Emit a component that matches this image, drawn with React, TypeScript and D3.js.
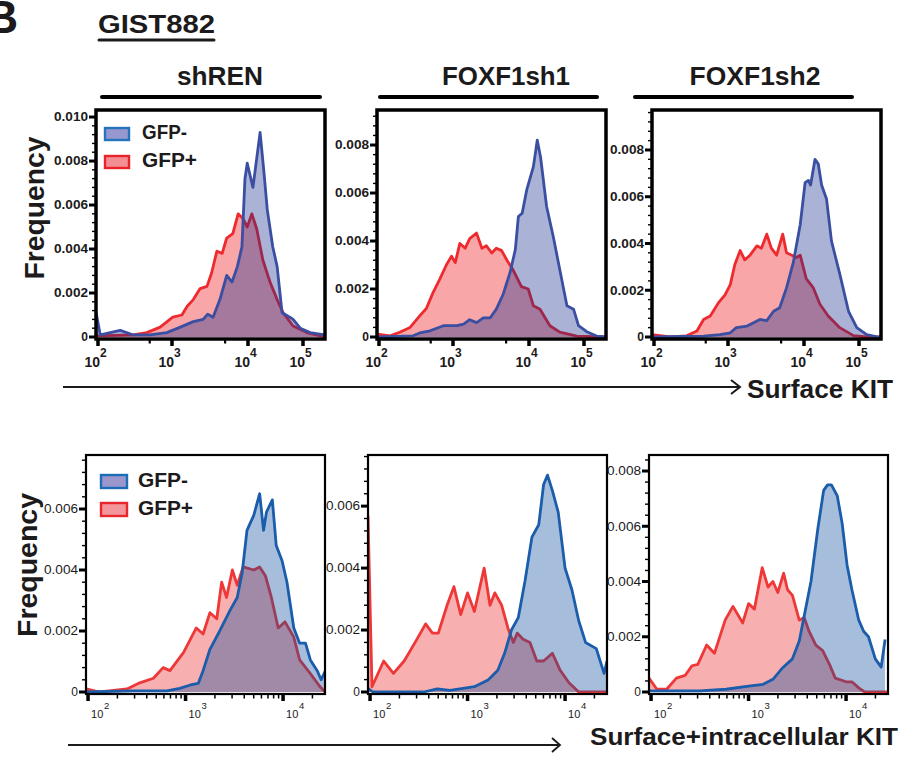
import React from 'react';
import * as d3 from 'd3';

// each point: [log10 KIT intensity, frequency]
const shrenSurfNeg: [number, number][] = [
  [1.975, 0.0011], [2.03, 0.0001], [2.3, 0.0003], [2.47, 0.0001], [2.7, 0.0001], [2.93, 0.0002],
  [3.11, 0.00045], [3.28, 0.0007], [3.41, 0.0008], [3.47, 0.00104], [3.54, 0.0009], [3.63, 0.0017],
  [3.72, 0.0028], [3.79, 0.0025], [3.86, 0.0032], [3.92, 0.0041], [3.96, 0.0072], [3.99, 0.0079],
  [4.09, 0.0068], [4.22, 0.0093], [4.29, 0.0075], [4.35, 0.0058], [4.45, 0.0041], [4.53, 0.0032],
  [4.62, 0.0011], [4.76, 0.0009], [4.82, 0.0008], [4.95, 0.0004], [5.13, 0.0002], [5.4, 0.0001],
];
const shrenSurfPos: [number, number][] = [
  [1.975, 0.00005], [2.47, 0.0001], [2.66, 0.0002], [2.84, 0.00045], [3.01, 0.0009], [3.13, 0.001],
  [3.2, 0.0014], [3.28, 0.0017], [3.37, 0.0022], [3.46, 0.0023], [3.52, 0.0029], [3.59, 0.0039],
  [3.66, 0.0038], [3.72, 0.0045], [3.8, 0.0047], [3.87, 0.0056], [3.93, 0.0054], [3.99, 0.005],
  [4.07, 0.0056], [4.16, 0.0049], [4.27, 0.0035], [4.4, 0.0025], [4.53, 0.0017], [4.64, 0.0011],
  [4.82, 0.0005], [5.07, 0.0002], [5.4, 0],
];
const sh1SurfNeg: [number, number][] = [
  [1.975, 0], [2.46, 0.00005], [2.55, 0.00017], [2.69, 0.00026], [2.87, 0.00047], [3.05, 0.00047],
  [3.14, 0.00054], [3.22, 0.00072], [3.31, 0.0006], [3.4, 0.0008], [3.49, 0.0008], [3.57, 0.00116],
  [3.66, 0.00178], [3.75, 0.00268], [3.82, 0.00364], [3.86, 0.00502], [3.91, 0.00516], [3.97, 0.00613],
  [4.08, 0.0071], [4.15, 0.0082], [4.21, 0.0075], [4.32, 0.00544], [4.44, 0.0042], [4.56, 0.0028],
  [4.69, 0.0013], [4.81, 0.00116], [4.9, 0.00047], [5.05, 0.00022], [5.23, 0.00004], [5.4, 0],
];
const sh1SurfPos: [number, number][] = [
  [1.975, 0.00012], [2.15, 0.00005], [2.28, 0.0002], [2.42, 0.0004], [2.55, 0.00088], [2.64, 0.00119],
  [2.73, 0.00185], [2.82, 0.0024], [2.91, 0.003], [2.98, 0.00337], [3.03, 0.0031], [3.09, 0.0039],
  [3.16, 0.0037], [3.22, 0.0041], [3.31, 0.00433], [3.38, 0.0037], [3.44, 0.0038], [3.51, 0.0035],
  [3.57, 0.0037], [3.64, 0.0036], [3.71, 0.0032], [3.79, 0.0028], [3.9, 0.0021], [3.99, 0.002],
  [4.08, 0.0013], [4.2, 0.00116], [4.38, 0.00047], [4.56, 0.0002], [4.87, 0.00004], [5.4, 0],
];
const sh2SurfNeg: [number, number][] = [
  [1.975, 0], [2.67, 0.00004], [2.89, 0.0001], [3.03, 0.00018], [3.11, 0.0004], [3.25, 0.00047],
  [3.33, 0.0006], [3.42, 0.00075], [3.51, 0.0007], [3.6, 0.0011], [3.68, 0.00125], [3.77, 0.0021],
  [3.86, 0.0032], [3.95, 0.0048], [4.02, 0.0066], [4.08, 0.0067], [4.12, 0.0065], [4.2, 0.0076],
  [4.26, 0.0074], [4.32, 0.0065], [4.41, 0.0059], [4.5, 0.0041], [4.65, 0.0027], [4.81, 0.0011],
  [4.96, 0.0004], [5.14, 0.0001], [5.35, 0], [5.4, 0],
];
const sh2SurfPos: [number, number][] = [
  [1.975, 0.0001], [2.22, 0], [2.44, 0.00005], [2.58, 0.00026], [2.67, 0.00075], [2.76, 0.0009],
  [2.87, 0.00146], [2.96, 0.0018], [3.03, 0.00224], [3.09, 0.0031], [3.16, 0.0037], [3.22, 0.0033],
  [3.29, 0.0035], [3.38, 0.0039], [3.44, 0.0038], [3.51, 0.0044], [3.57, 0.0038], [3.64, 0.0035],
  [3.72, 0.0044], [3.77, 0.0036], [3.84, 0.0035], [3.9, 0.0034], [3.95, 0.0035], [4.04, 0.0025],
  [4.17, 0.0021], [4.29, 0.0014], [4.44, 0.0009], [4.65, 0.0004], [4.9, 0.00006], [5.14, 0], [5.4, 0],
];
const shrenTotNeg: [number, number][] = [
  [1.979, 0], [2.46, 0.00004], [2.81, 0.00004], [2.94, 0.00012], [3.05, 0.00023], [3.13, 0.00028],
  [3.18, 0.0007], [3.25, 0.0014], [3.35, 0.002], [3.46, 0.0027], [3.53, 0.0031], [3.58, 0.0039],
  [3.63, 0.0053], [3.7, 0.0058], [3.76, 0.0065], [3.8, 0.0053], [3.83, 0.0059], [3.89, 0.0063],
  [3.93, 0.0048], [3.99, 0.0043], [4.04, 0.0036], [4.11, 0.0021], [4.17, 0.0016], [4.23, 0.0016],
  [4.28, 0.00105], [4.35, 0.0007], [4.39, 0.0004], [4.43, 0.00067],
];
const shrenTotPos: [number, number][] = [
  [1.979, 0.0001], [2.12, 0], [2.4, 0.0001], [2.53, 0.0003], [2.67, 0.00045], [2.77, 0.0008],
  [2.84, 0.0007], [2.98, 0.0013], [3.11, 0.0021], [3.18, 0.0019], [3.25, 0.0026], [3.32, 0.0024],
  [3.37, 0.0036], [3.42, 0.0031], [3.48, 0.004], [3.53, 0.0035], [3.59, 0.0041], [3.7, 0.004],
  [3.76, 0.0041], [3.82, 0.0038], [3.88, 0.0031], [3.95, 0.0021], [4.02, 0.0023], [4.11, 0.0018],
  [4.17, 0.00105], [4.28, 0.0006], [4.38, 0.00017], [4.43, 0],
];
const sh1TotNeg: [number, number][] = [
  [1.979, 0.00012], [2.03, 0], [2.55, 0], [2.69, 0.0001], [2.82, 0.00005], [3.07, 0.00017],
  [3.21, 0.00039], [3.31, 0.0007], [3.38, 0.00125], [3.45, 0.002], [3.52, 0.0024], [3.59, 0.0036],
  [3.66, 0.005], [3.73, 0.0054], [3.78, 0.0067], [3.82, 0.007], [3.87, 0.0065], [3.93, 0.0058],
  [4.0, 0.004], [4.07, 0.0033], [4.14, 0.0023], [4.21, 0.0016], [4.32, 0.0014], [4.4, 0.0006], [4.43, 0.001],
];
const sh1TotPos: [number, number][] = [
  [1.979, 0.0057], [2.02, 0.00017], [2.14, 0.001], [2.24, 0.0006], [2.35, 0.001], [2.48, 0.0017],
  [2.57, 0.0022], [2.64, 0.0019], [2.7, 0.0019], [2.79, 0.0028], [2.86, 0.0034], [2.93, 0.0025],
  [3.0, 0.0032], [3.07, 0.0026], [3.17, 0.004], [3.23, 0.0028], [3.28, 0.0032], [3.35, 0.0028],
  [3.42, 0.002], [3.47, 0.0016], [3.51, 0.0019], [3.57, 0.0017], [3.64, 0.0016], [3.71, 0.001],
  [3.78, 0.001], [3.87, 0.00125], [3.95, 0.0007], [4.04, 0.0003], [4.14, 0], [4.43, 0],
];
const sh2TotNeg: [number, number][] = [
  [1.979, 0.00004], [2.5, 0.00004], [2.77, 0.0001], [2.98, 0.0002], [3.15, 0.00028], [3.25, 0.00046],
  [3.35, 0.00088], [3.45, 0.0012], [3.52, 0.00185], [3.59, 0.0031], [3.64, 0.004], [3.71, 0.0059],
  [3.77, 0.0073], [3.81, 0.0075], [3.85, 0.0075], [3.88, 0.0073], [3.91, 0.0071], [3.96, 0.0061],
  [4.01, 0.0046], [4.06, 0.0037], [4.13, 0.0026], [4.18, 0.0022], [4.23, 0.002], [4.3, 0.0012],
  [4.36, 0.0009], [4.4, 0.0019],
];
const sh2TotPos: [number, number][] = [
  [1.979, 0.0005], [2.06, 0.0001], [2.16, 0.0001], [2.26, 0.0005], [2.35, 0.0006], [2.42, 0.00095],
  [2.48, 0.001], [2.57, 0.0017], [2.65, 0.0014], [2.76, 0.0026], [2.84, 0.0031], [2.94, 0.0025],
  [3.0, 0.0032], [3.06, 0.003], [3.14, 0.0045], [3.2, 0.0038], [3.25, 0.004], [3.3, 0.0036],
  [3.36, 0.0043], [3.4, 0.0037], [3.45, 0.0035], [3.52, 0.0026], [3.57, 0.0027], [3.62, 0.0022],
  [3.69, 0.0017], [3.76, 0.0015], [3.83, 0.001], [3.89, 0.0005], [4.0, 0.00037], [4.06, 0.00037],
  [4.13, 0.00015], [4.19, 0], [4.43, 0],
];

const yTicksTo010 = [0, 0.002, 0.004, 0.006, 0.008, 0.01];
const yTicksTo008 = [0, 0.002, 0.004, 0.006, 0.008];
const yTicksTo006 = [0, 0.002, 0.004, 0.006];
const topDecades = [2, 3, 4, 5];
const botDecades = [2, 3, 4];
const headers = ['shREN', 'FOXF1sh1', 'FOXF1sh2'];
const legendLabels = ['GFP-', 'GFP+'];

const FONT = 'Liberation Sans, Arial, Helvetica, sans-serif';
const INK = '#1c1a1b';
const fmt = (v: number) => (v === 0 ? '0' : d3.format('.3f')(v));

const topStyle = {
  negLine: '#3a4ea2', negFill: '#0c238a', negAlpha: 0.35,
  posLine: '#ee2a2f', posFill: '#ee2a2f', posAlpha: 0.42,
  frame: 3.5, bold: true,
};
const botStyle = {
  negLine: '#1b5cab', negFill: '#00459b', negAlpha: 0.35,
  posLine: '#ee3838', posFill: '#ee3232', posAlpha: 0.39,
  frame: 2.2, bold: false,
};

function Histo({ id, left, top, size, x, yMax, yTicks, neg, pos, st, decades, minor, row }: any) {
  const bottom = top + size;
  const y = d3.scaleLinear().domain([0, yMax]).range([bottom - 2, top]);
  const area = d3.area<[number, number]>().x(d => x(10 ** d[0])).y0(y(0)).y1(d => y(d[1]));
  const line = d3.line<[number, number]>().x(d => x(10 ** d[0])).y(d => y(d[1]));
  const yMinor = d3.range(0, yMax, 0.0004);
  const weight = st.bold ? 'bold' : 'normal';
  return (
    <g>
      <defs>
        <clipPath id={id}>
          <rect x={left} y={top} width={size} height={size} />
        </clipPath>
      </defs>
      <g clipPath={`url(#${id})`}>
        <path d={area(pos) || ''} fill={st.posFill} fillOpacity={st.posAlpha} />
        <path d={line(pos) || ''} fill="none" stroke={st.posLine} strokeWidth={2.8} strokeLinejoin="round" />
        <path d={area(neg) || ''} fill={st.negFill} fillOpacity={st.negAlpha} />
        <path d={line(neg) || ''} fill="none" stroke={st.negLine} strokeWidth={2.8} strokeLinejoin="round" />
      </g>
      <rect x={left} y={top} width={size} height={size} fill="none" stroke="#000" strokeWidth={st.frame} />
      {yMinor.map((v, i) => (
        <line key={'ym' + i} x1={left - 4} x2={left} y1={y(v)} y2={y(v)} stroke="#000" strokeWidth={1.4} />
      ))}
      {yTicks.map((v: number) => (
        <g key={'y' + v}>
          <line x1={left - 7} x2={left} y1={y(v)} y2={y(v)} stroke="#000" strokeWidth={3} />
          <text
            x={left - 8}
            y={y(v)}
            dy="0.36em"
            textAnchor="end"
            fontFamily={FONT}
            fontWeight={weight}
            fontSize={12}
            fill={INK}
            textLength={v === 0 ? undefined : 34}
            lengthAdjust="spacingAndGlyphs"
          >
            {fmt(v)}
          </text>
        </g>
      ))}
      {minor.map((v: number, i: number) => (
        <line key={'xm' + i} x1={x(v)} x2={x(v)} y1={bottom} y2={bottom + 4.5} stroke="#000" strokeWidth={row === 0 ? 2.2 : 1.5} />
      ))}
      {decades.map((p: number) => {
        const tx = x(10 ** p);
        return (
          <g key={'x' + p}>
            <line x1={tx} x2={tx} y1={bottom} y2={bottom + 7} stroke="#000" strokeWidth={3.5} />
            {row === 0 ? (
              <>
                <text x={tx + 2} y={367} textAnchor="end" fontFamily={FONT} fontWeight="bold" fontSize={14} fill={INK}>10</text>
                <text x={tx + 2} y={357} fontFamily={FONT} fontWeight="bold" fontSize={12} fill={INK}>{p}</text>
              </>
            ) : (
              <>
                <text x={tx + 3} y={718} fontFamily={FONT} fontSize={11} fill={INK}>10</text>
                <text x={tx + 16} y={709} fontFamily={FONT} fontSize={9.5} fill={INK}>{p}</text>
              </>
            )}
          </g>
        );
      })}
    </g>
  );
}

function Legend({ x, y0, gap, sw, sh, tx, style, widths }: any) {
  const sets = [
    { fill: style.negSwatch, stroke: style.negStroke },
    { fill: style.posSwatch, stroke: style.posStroke },
  ];
  return (
    <g>
      {legendLabels.map((lab, i) => (
        <g key={lab}>
          <rect x={x} y={y0 + i * gap} width={sw} height={sh} fill={sets[i].fill} stroke={sets[i].stroke} strokeWidth={2.4} />
          <text x={tx} y={y0 + i * gap + sh - 1} fontFamily={FONT} fontWeight="bold" fontSize={20} fill={INK}
            textLength={widths[i]} lengthAdjust="spacingAndGlyphs">{lab}</text>
        </g>
      ))}
    </g>
  );
}

export default function App() {
  const topLefts = [96, 377, 652];
  const botLefts = [86, 368, 649];
  const topX = (L: number) =>
    d3.scaleLog()
      .domain([10 ** 1.973, 1e2, 1e3, 1e4, 1e5, 10 ** 5.4])
      .range([L, L + 2, L + 76, L + 152, L + 207, L + 229]);
  const botX = (L: number) => d3.scaleLog().domain([10 ** 1.979, 10 ** 4.43]).range([L, L + 239]);
  const topMinor = [500, 5000];
  const botMinor = d3.range(2, 5).flatMap(p => d3.range(2, 10).map(k => k * 10 ** p)).filter(v => v < 10 ** 4.43);

  const topData = [
    { neg: shrenSurfNeg, pos: shrenSurfPos, yMax: 0.01032, ticks: yTicksTo010 },
    { neg: sh1SurfNeg, pos: sh1SurfPos, yMax: 0.00946, ticks: yTicksTo008 },
    { neg: sh2SurfNeg, pos: sh2SurfPos, yMax: 0.00971, ticks: yTicksTo008 },
  ];
  const botData = [
    { neg: shrenTotNeg, pos: shrenTotPos, yMax: 0.00777, ticks: yTicksTo006 },
    { neg: sh1TotNeg, pos: sh1TotPos, yMax: 0.00765, ticks: yTicksTo006 },
    { neg: sh2TotNeg, pos: sh2TotPos, yMax: 0.00858, ticks: yTicksTo008 },
  ];
  const headerCenters = [220, 506, 755];
  const headerWidths = [86, 128, 131];
  const headerLines = [[102, 320], [380, 597], [635, 852]];

  return (
    <svg width={914} height={759} style={{ position: 'absolute', left: 0, top: 0, background: '#fff' }}>
      <text x={-15} y={33} fontFamily={FONT} fontWeight="bold" fontSize={46} fill={INK}>B</text>
      <text x={98} y={33} fontFamily={FONT} fontWeight="bold" fontSize={25} fill={INK}
        textLength={117} lengthAdjust="spacingAndGlyphs">GIST882</text>
      <line x1={99} x2={214} y1={40} y2={40} stroke={INK} strokeWidth={3} strokeLinecap="round" />

      {headers.map((h, i) => (
        <g key={h}>
          <text x={headerCenters[i]} y={85} textAnchor="middle" fontFamily={FONT} fontWeight="bold" fontSize={26}
            fill={INK} textLength={headerWidths[i]} lengthAdjust="spacingAndGlyphs">{h}</text>
          <line x1={headerLines[i][0]} x2={headerLines[i][1]} y1={97} y2={97} stroke="#000" strokeWidth={4} strokeLinecap="round" />
        </g>
      ))}

      {topData.map((d, i) => (
        <Histo key={'t' + i} id={'clipT' + i} left={topLefts[i]} top={110} size={229} x={topX(topLefts[i])}
          yMax={d.yMax} yTicks={d.ticks} neg={d.neg} pos={d.pos} st={topStyle}
          decades={topDecades} minor={topMinor} row={0} />
      ))}
      {botData.map((d, i) => (
        <Histo key={'b' + i} id={'clipB' + i} left={botLefts[i]} top={455} size={239} x={botX(botLefts[i])}
          yMax={d.yMax} yTicks={d.ticks} neg={d.neg} pos={d.pos} st={botStyle}
          decades={botDecades} minor={botMinor} row={1} />
      ))}

      <Legend x={105} y0={128} gap={28} sw={24} sh={12} tx={142} widths={[45, 55]}
        style={{ negSwatch: '#9798cf', negStroke: '#2474bd', posSwatch: '#f48e95', posStroke: '#e8232a' }} />
      <Legend x={101} y0={475} gap={28} sw={26} sh={13} tx={138} widths={[50, 55]}
        style={{ negSwatch: '#9b97cc', negStroke: '#1d6db6', posSwatch: '#f2969b', posStroke: '#e8262c' }} />

      <text transform="translate(44,208) rotate(-90)" textAnchor="middle" fontFamily={FONT} fontWeight="bold"
        fontSize={28} fill={INK} textLength={143} lengthAdjust="spacingAndGlyphs">Frequency</text>
      <text transform="translate(37,565) rotate(-90)" textAnchor="middle" fontFamily={FONT} fontWeight="bold"
        fontSize={28} fill={INK} textLength={144} lengthAdjust="spacingAndGlyphs">Frequency</text>

      <line x1={63} x2={740} y1={387} y2={387} stroke={INK} strokeWidth={2} />
      <polyline points="731,380 740,387 731,394" fill="none" stroke={INK} strokeWidth={2} />
      <text x={747} y={398} fontFamily={FONT} fontWeight="bold" fontSize={25} fill={INK}
        textLength={146} lengthAdjust="spacingAndGlyphs">Surface KIT</text>

      <line x1={68} x2={560} y1={745} y2={745} stroke={INK} strokeWidth={1.8} />
      <polyline points="552,738 560,745 552,752" fill="none" stroke={INK} strokeWidth={1.8} />
      <text x={590} y={745} fontFamily={FONT} fontWeight="bold" fontSize={24} fill={INK}
        textLength={308} lengthAdjust="spacingAndGlyphs">Surface+intracellular KIT</text>
    </svg>
  );
}
